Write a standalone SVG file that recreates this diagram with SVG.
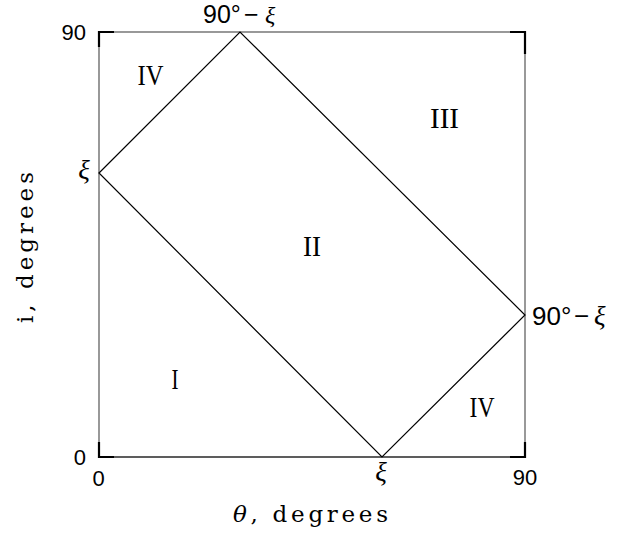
<svg xmlns="http://www.w3.org/2000/svg" width="639" height="533" viewBox="0 0 639 533">
<style>
.frame{fill:none;stroke:#555;stroke-width:1.2}
.tick{fill:none;stroke:#000;stroke-width:2.2}
.edge{fill:none;stroke:#000;stroke-width:1.2}
.num{font-family:"Liberation Sans","DejaVu Sans",sans-serif;font-size:22px;fill:#000}
.rom{font-family:"Liberation Serif","DejaVu Serif",serif;font-size:30px;fill:#000}
.lab{font-family:"DejaVu Serif","Liberation Serif",serif;font-size:23px;fill:#000}
.xi{font-family:"Liberation Serif","DejaVu Serif",serif;font-style:italic;font-size:27px;fill:#000}
.xt{font-family:"Liberation Serif","DejaVu Serif",serif;font-style:italic;font-size:24px;fill:#000}
.ang{font-family:"Liberation Sans","DejaVu Sans",sans-serif;font-size:26px;fill:#000}
.angt{font-family:"Liberation Sans","DejaVu Sans",sans-serif;font-size:25px;fill:#000}
</style>
<rect width="639" height="533" fill="#fff"/>
<g id="frame">
<rect class="frame" x="99" y="32" width="426" height="425"/>
<line x1="99" y1="457" x2="525" y2="457" stroke="#222" stroke-width="1.2"/>
<path class="tick" d="M99,47 V32 H114 M510,32 H525 V54 M99,442 V457 H114 M510,457 H525 V442"/>
</g>
<g id="connectors">
<polygon class="edge" points="99,173 240,32 525,315 382,457"/>
</g>
<g id="axis-labels">
<text class="num" x="86" y="40" text-anchor="end">90</text>
<text class="num" x="86" y="465" text-anchor="end">0</text>
<text class="num" x="98.5" y="486" text-anchor="middle">0</text>
<text class="num" x="525" y="485" text-anchor="middle">90</text>
<text class="xi" x="84" y="179" text-anchor="middle">ξ</text>
<text class="xi" x="381" y="481" text-anchor="middle">ξ</text>
<text><tspan class="angt" x="203" y="23">90°</tspan><tspan class="angt" x="244" y="23">−</tspan><tspan class="xt" x="265" y="23">ξ</tspan></text>
<text><tspan class="ang" x="532" y="325">90°</tspan><tspan class="ang" x="574" y="325">−</tspan><tspan class="xi" x="594" y="325">ξ</tspan></text>
<text class="lab" x="233" y="522" textLength="155" lengthAdjust="spacing"><tspan font-style="italic">θ</tspan>, degrees</text>
<text class="lab" transform="translate(33,323) rotate(-90)" textLength="151" lengthAdjust="spacing">i, degrees</text>
</g>
<g id="regions">
<text id="r-iv1" class="rom" x="150.5" y="85" text-anchor="middle" textLength="26" lengthAdjust="spacingAndGlyphs">IV</text>
<text id="r-iii" class="rom" x="444.5" y="128" text-anchor="middle" textLength="29" lengthAdjust="spacingAndGlyphs">III</text>
<text id="r-ii" class="rom" x="312" y="256" text-anchor="middle" textLength="18" lengthAdjust="spacingAndGlyphs">II</text>
<text id="r-i" class="rom" x="175" y="389" text-anchor="middle" textLength="7" lengthAdjust="spacingAndGlyphs">I</text>
<text id="r-iv2" class="rom" x="482" y="417" text-anchor="middle" textLength="25" lengthAdjust="spacingAndGlyphs">IV</text>
</g>
</svg>
